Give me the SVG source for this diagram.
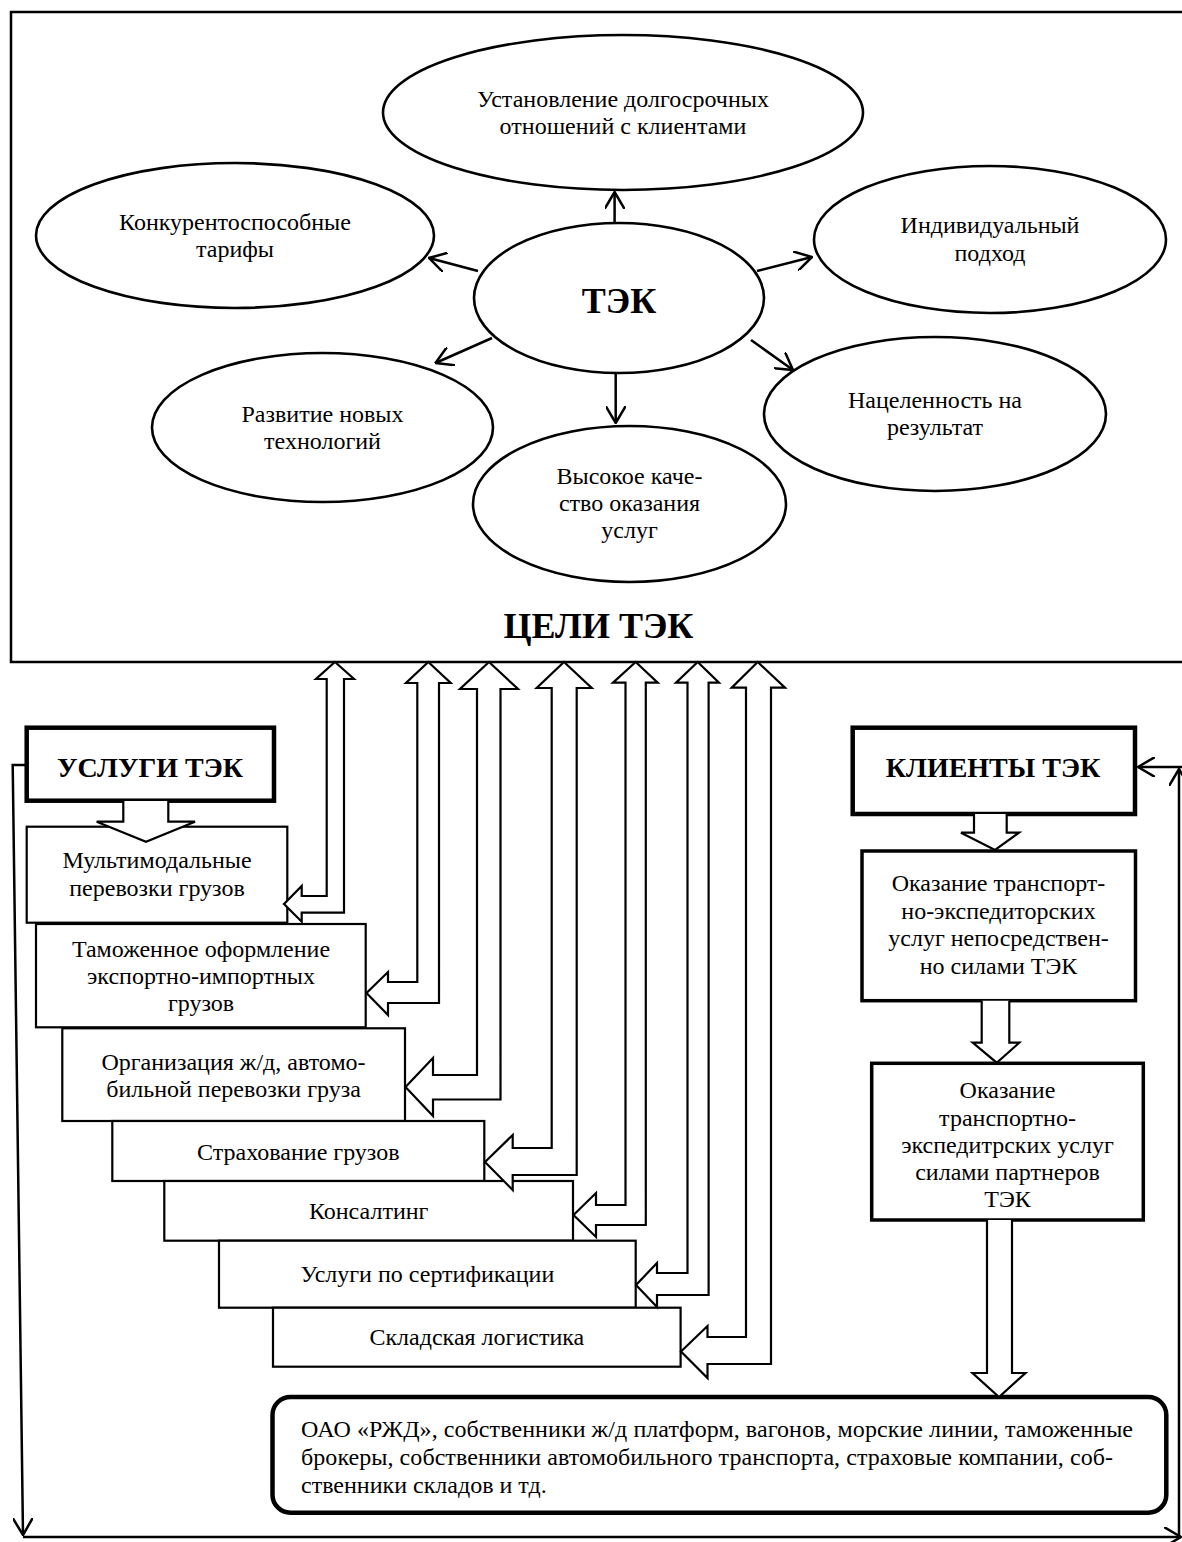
<svg xmlns="http://www.w3.org/2000/svg" width="1182" height="1542" viewBox="0 0 1182 1542">
<style>
text{font-family:"Liberation Serif","Times New Roman",serif;fill:#000}
.t{font-size:24px;text-anchor:middle}
.tl{font-size:24px}
.b36{font-size:36px;font-weight:bold;text-anchor:middle}
.b28{font-size:28px;font-weight:bold;text-anchor:middle}
.ell{fill:#fff;stroke:#000;stroke-width:2.6}
.box{fill:#fff;stroke:#000;stroke-width:2.2}
.thick{fill:#fff;stroke:#000;stroke-width:4.5}
.mid{fill:#fff;stroke:#000;stroke-width:3.5}
.ln{fill:none;stroke:#000;stroke-width:2.5}
.blk{fill:#fff;stroke:#000;stroke-width:2.2;stroke-linejoin:miter}
</style>
<defs>
<marker id="v" viewBox="0 0 18 20" refX="17" refY="10" markerWidth="18" markerHeight="20" markerUnits="userSpaceOnUse" orient="auto">
<path d="M0,0 L17,10 L0,20" fill="none" stroke="#000" stroke-width="2.5"/>
</marker>
</defs>
<rect width="1182" height="1542" fill="#fff"/>
<g id="frame"><rect x="11" y="12" width="1190" height="650" fill="none" stroke="#000" stroke-width="2.5"/>
<text class="b36" x="598.5" y="638">ЦЕЛИ ТЭК</text></g>

<g id="e-ustanovlenie"><ellipse class="ell" cx="623" cy="112.5" rx="240" ry="77.5"/>
<text class="t" x="623" y="107">Установление долгосрочных</text><text class="t" x="623" y="134">отношений с клиентами</text></g>
<g id="e-konkur"><ellipse class="ell" cx="235" cy="235.5" rx="199" ry="72.5"/>
<text class="t" x="235" y="230">Конкурентоспособные</text><text class="t" x="235" y="257">тарифы</text></g>
<g id="e-individ"><ellipse class="ell" cx="990" cy="239.5" rx="176" ry="73.5"/>
<text class="t" x="990" y="233">Индивидуальный</text><text class="t" x="990" y="261">подход</text></g>
<g id="e-tek"><ellipse class="ell" cx="619" cy="298" rx="145" ry="75"/>
<text class="b36" x="619" y="313">ТЭК</text></g>
<g id="e-razvitie"><ellipse class="ell" cx="322.5" cy="427.5" rx="170.5" ry="74.5"/>
<text class="t" x="322.5" y="422">Развитие новых</text><text class="t" x="322.5" y="449">технологий</text></g>
<g id="e-kachestvo"><ellipse class="ell" cx="629.5" cy="504" rx="156.5" ry="78"/>
<text class="t" x="629.5" y="484">Высокое каче-</text><text class="t" x="629.5" y="511">ство оказания</text><text class="t" x="629.5" y="538">услуг</text></g>
<g id="e-nacel"><ellipse class="ell" cx="935" cy="414" rx="171" ry="77"/>
<text class="t" x="935" y="408">Нацеленность на</text><text class="t" x="935" y="435">результат</text></g>

<g id="uslugi"><rect class="thick" x="26.7" y="727.7" width="247.3" height="73"/>
<text class="b28" x="150" y="776.7">УСЛУГИ ТЭК</text></g>
<g id="s1"><rect class="box" x="26.7" y="826.7" width="260.6" height="96"/>
<text class="t" x="157" y="868">Мультимодальные</text><text class="t" x="157" y="896">перевозки грузов</text></g>
<g id="s2"><rect class="box" x="36" y="924" width="329.7" height="103.3"/>
<text class="t" x="201" y="957">Таможенное оформление</text><text class="t" x="201" y="984">экспортно-импортных</text><text class="t" x="201" y="1011">грузов</text></g>
<g id="s3"><rect class="box" x="62.3" y="1028.3" width="342.7" height="92.7"/>
<text class="t" x="233.5" y="1070">Организация ж/д, автомо-</text><text class="t" x="233.5" y="1097">бильной перевозки груза</text></g>
<g id="s4"><rect class="box" x="112.3" y="1121" width="372" height="60"/>
<text class="t" x="298.3" y="1160">Страхование грузов</text></g>
<g id="s5"><rect class="box" x="164.3" y="1181" width="408.7" height="59.7"/>
<text class="t" x="368.7" y="1219">Консалтинг</text></g>
<g id="s6"><rect class="box" x="219" y="1240.7" width="416.7" height="67"/>
<text class="t" x="427.4" y="1282">Услуги по сертификации</text></g>
<g id="s7"><rect class="box" x="273" y="1307.7" width="407.6" height="59"/>
<text class="t" x="476.8" y="1345">Складская логистика</text></g>

<g id="klienty"><rect class="thick" x="852.7" y="727.7" width="282.3" height="86.3"/>
<text class="b28" x="993" y="776.7">КЛИЕНТЫ ТЭК</text></g>
<g id="k1"><rect class="mid" x="862" y="851" width="273.5" height="149.7"/>
<text class="t" x="998.5" y="891">Оказание транспорт-</text><text class="t" x="998.5" y="918.5">но-экспедиторских</text><text class="t" x="998.5" y="946">услуг непосредствен-</text><text class="t" x="998.5" y="973.5">но силами ТЭК</text></g>
<g id="k2"><rect class="mid" x="871.7" y="1063.3" width="271.6" height="156.7"/>
<text class="t" x="1007.5" y="1098">Оказание</text><text class="t" x="1007.5" y="1126">транспортно-</text><text class="t" x="1007.5" y="1153">экспедитрских услуг</text><text class="t" x="1007.5" y="1180">силами партнеров</text><text class="t" x="1007.5" y="1207">ТЭК</text></g>
<g id="partners"><rect class="thick" x="272.5" y="1397" width="893.8" height="115.7" rx="18"/>
<text class="tl" x="301" y="1437" textLength="832" lengthAdjust="spacing">ОАО «РЖД», собственники ж/д платформ, вагонов, морские линии, таможенные</text>
<text class="tl" x="301" y="1465" textLength="812" lengthAdjust="spacing">брокеры, собственники автомобильного транспорта, страховые компании, соб-</text>
<text class="tl" x="301" y="1493">ственники складов и тд.</text></g>

<g id="connectors">
<line class="ln" x1="614.6" y1="223" x2="614.6" y2="192" marker-end="url(#v)"/>
<line class="ln" x1="478" y1="271" x2="429" y2="258" marker-end="url(#v)"/>
<line class="ln" x1="757" y1="271" x2="812" y2="257" marker-end="url(#v)"/>
<line class="ln" x1="492" y1="338" x2="435.5" y2="363" marker-end="url(#v)"/>
<line class="ln" x1="615.7" y1="373" x2="615.7" y2="423" marker-end="url(#v)"/>
<line class="ln" x1="751" y1="340" x2="793" y2="370" marker-end="url(#v)"/>
<path class="blk" d="M335,662 L354,679 L344,679 L344,912.7 L301.7,912.7 L301.7,921.7 L284,904 L301.7,886 L301.7,896 L326.7,896 L326.7,679 L316,679 Z"/>
<path class="blk" d="M428.3,662 L450.7,683 L439,683 L439,1003 L388,1003 L388,1015 L366.5,993 L388,972 L388,982 L417.3,982 L417.3,683 L406,683 Z"/>
<path class="blk" d="M489,662 L518,689 L500.5,689 L500.5,1099.5 L433,1099.5 L433,1116 L405.5,1087 L433,1058 L433,1075 L477,1075 L477,689 L460,689 Z"/>
<path class="blk" d="M564,662 L591.7,688 L576.7,688 L576.7,1175 L512.7,1175 L512.7,1190 L485,1162 L512.7,1135 L512.7,1148 L551.7,1148 L551.7,688 L536.7,688 Z"/>
<path class="blk" d="M635.7,662 L657.7,682.7 L645.8,682.7 L645.8,1225 L596,1225 L596,1237 L573.5,1215 L596,1193 L596,1205 L625.5,1205 L625.5,682.7 L613,682.7 Z"/>
<path class="blk" d="M697.7,662 L719,682.7 L708.6,682.7 L708.6,1295 L657,1295 L657,1307 L636,1285 L657,1263 L657,1273 L687.5,1273 L687.5,682.7 L676,682.7 Z"/>
<path class="blk" d="M757.7,662 L785,687.7 L771,687.7 L771,1364 L707.5,1364 L707.5,1378 L681,1351.5 L707.5,1326 L707.5,1337 L746,1337 L746,687.7 L731.7,687.7 Z"/>
<path class="blk" d="M123.3,801 L123.3,821.7 L96.7,821.7 L146,841.7 L195,821.7 L168.3,821.7 L168.3,801"/>
<path class="blk" d="M974,814 L974,832.7 L961,832.7 L995,850 L1019,832.7 L1006.7,832.7 L1006.7,814"/>
<path class="blk" d="M981.7,1000.7 L981.7,1042.7 L972.7,1042.7 L996.7,1062.7 L1019.3,1042.7 L1009.3,1042.7 L1009.3,1000.7"/>
<path class="blk" d="M987,1220 L987,1373 L972.5,1373 L999,1397 L1025.5,1373 L1012,1373 L1012,1220"/>
<polyline class="ln" points="26.7,765 12.7,765 23,1535" marker-end="url(#v)"/>
<line class="ln" x1="23" y1="1537" x2="1181" y2="1537" marker-end="url(#v)"/>
<line class="ln" x1="1179" y1="1537" x2="1179" y2="769" marker-end="url(#v)"/>
<line class="ln" x1="1184" y1="767" x2="1138" y2="767" marker-end="url(#v)"/>
</g>
</svg>
